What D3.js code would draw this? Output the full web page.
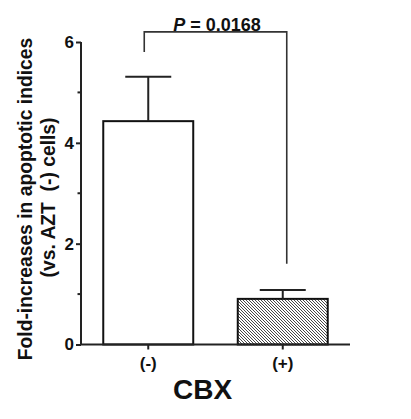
<!DOCTYPE html>
<html>
<head>
<meta charset="utf-8">
<script src="https://cdn.jsdelivr.net/npm/d3@7"></script>
<style>
  body { margin: 0; background: #fff; }
  text { font-family: "Liberation Sans", Arial, sans-serif; font-weight: bold; fill: #111; }
</style>
</head>
<body>
<svg id="svg" width="411" height="419"></svg>
<script>
// data
var categories = ['(-)', '(+)'];
var means = [4.43, 0.905];
var sems = [0.88, 0.175];
var yTicks = [0, 2, 4, 6];
var yMinorTicks = [1, 3, 5];
var pLabel = '0.0168';
var bracketEnds = [5.8, 1.6];
var bracketTop = 6.2;

var svg = d3.select('#svg');
var ink = '#222';

var x = d3.scaleBand()
  .domain(categories)
  .range([81, 350])
  .paddingInner(0.331)
  .paddingOuter(0.1655);

var y = d3.scaleLinear()
  .domain([0, 6])
  .range([344.5, 42]);

// hatch pattern for the second bar
var defs = svg.append('defs');
defs.append('pattern')
  .attr('id', 'hatch')
  .attr('patternUnits', 'userSpaceOnUse')
  .attr('width', 3)
  .attr('height', 3)
  .append('path')
  .attr('d', 'M-1,-1 L4,4 M-1,2 L1,4 M2,-1 L4,1')
  .attr('stroke', '#333')
  .attr('stroke-width', 0.9);

// y axis
var yAxis = svg.append('g')
  .attr('transform', 'translate(81,0)')
  .call(d3.axisLeft(y).tickValues(yTicks).tickSize(5).tickPadding(2).tickFormat(d3.format('d')));
yAxis.select('.domain').attr('stroke', ink).attr('stroke-width', 2).attr('d', 'M0,' + y(6) + 'V' + y(0));
yAxis.selectAll('.tick line').attr('stroke', ink).attr('stroke-width', 2);
yAxis.selectAll('.tick text')
  .style('font-size', '17px')
  .attr('fill', '#111');

svg.append('g')
  .selectAll('line')
  .data(yMinorTicks)
  .join('line')
  .attr('x1', 77.5).attr('x2', 81)
  .attr('y1', function (d) { return y(d); })
  .attr('y2', function (d) { return y(d); })
  .attr('stroke', ink)
  .attr('stroke-width', 2);

// bars
svg.append('g')
  .selectAll('rect')
  .data(means)
  .join('rect')
  .attr('x', function (d, i) { return x(categories[i]); })
  .attr('y', function (d) { return y(d); })
  .attr('width', x.bandwidth())
  .attr('height', function (d) { return y(0) - y(d); })
  .attr('fill', function (d, i) { return i == 1 ? 'url(#hatch)' : '#fff'; })
  .attr('stroke', '#111')
  .attr('stroke-width', 2);

// error bars (upper only)
var err = svg.append('g');
means.forEach(function (m, i) {
  var cx = x(categories[i]) + x.bandwidth() / 2;
  err.append('line')
    .attr('x1', cx).attr('x2', cx)
    .attr('y1', y(m)).attr('y2', y(m + sems[i]))
    .attr('stroke', ink).attr('stroke-width', 2);
  err.append('line')
    .attr('x1', cx - 23).attr('x2', cx + 23)
    .attr('y1', y(m + sems[i])).attr('y2', y(m + sems[i]))
    .attr('stroke', ink).attr('stroke-width', 2);
});

// x axis
var xAxis = svg.append('g')
  .attr('transform', 'translate(0,' + y(0) + ')')
  .call(d3.axisBottom(x).tickSize(5).tickPadding(7));
xAxis.select('.domain').attr('stroke', ink).attr('stroke-width', 2).attr('d', 'M81,0H350');
xAxis.selectAll('.tick line').attr('stroke', ink).attr('stroke-width', 2);
xAxis.selectAll('.tick text')
  .style('font-size', '17px')
  .attr('fill', '#111');

// significance bracket
var bx0 = x(categories[0]) + x.bandwidth() / 2 - 4;
var bx1 = x(categories[1]) + x.bandwidth() / 2 + 4;
svg.append('path')
  .attr('d', 'M' + bx0 + ',' + y(bracketEnds[0]) + 'V' + y(bracketTop) + 'H' + bx1 + 'V' + y(bracketEnds[1]))
  .attr('fill', 'none')
  .attr('stroke', '#333')
  .attr('stroke-width', 1.6);

var pText = svg.append('text')
  .attr('x', (bx0 + bx1) / 2 + 1.5)
  .attr('y', 30.5)
  .attr('text-anchor', 'middle')
  .style('font-size', '18px');
pText.append('tspan').style('font-style', 'italic').text('P');
pText.append('tspan').text(' = ' + pLabel);

// axis titles
svg.append('text')
  .attr('x', 202.5)
  .attr('y', 399)
  .attr('text-anchor', 'middle')
  .style('font-size', '28px')
  .text('CBX');

svg.append('text')
  .attr('transform', 'translate(31.5,199) rotate(-90)')
  .attr('text-anchor', 'middle')
  .style('font-size', '19.3px')
  .text('Fold-increases in apoptotic indices');

svg.append('text')
  .attr('transform', 'translate(54.5,197.5) rotate(-90)')
  .attr('text-anchor', 'middle')
  .style('font-size', '19.3px')
  .style('white-space', 'pre')
  .text('(vs. AZT  (-) cells)');
</script>
</body>
</html>
